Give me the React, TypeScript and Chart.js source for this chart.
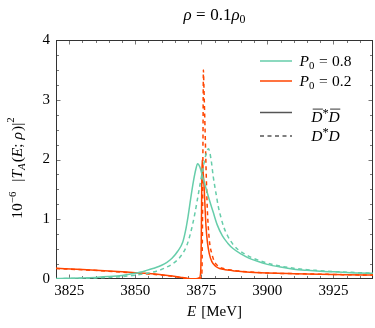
import React, { useEffect, useRef } from "react";
import { Chart, registerables } from "chart.js";

Chart.register(...registerables);

// ---- data (E in MeV, values in 10^-6 |T_A|^2) ----
const E_P08_DBAR = [3820,3825,3830,3835,3840,3845,3850,3854,3857,3860,3862,3864,3866,3868,3869,3870,3871,3872,3873,3873.6,3874.5,3875.5,3876.5,3878,3879.5,3881,3883,3885,3887,3890,3893,3896,3900,3905,3910,3915,3920,3925,3930,3935,3940];
const Y_P08_DBAR = [0.008,0.012,0.018,0.027,0.04,0.06,0.095,0.14,0.18,0.23,0.28,0.35,0.46,0.62,0.8,1.05,1.35,1.63,1.85,1.93,1.87,1.71,1.56,1.33,1.12,0.91,0.72,0.6,0.51,0.42,0.35,0.3,0.245,0.2,0.165,0.145,0.13,0.12,0.11,0.1,0.095];

const E_P08_D = [3820,3825,3830,3835,3840,3845,3850,3855,3858,3861,3864,3866,3868,3869.5,3871,3872.5,3874,3875.5,3876.7,3877.7,3878.7,3879.5,3880.5,3881.5,3882.5,3883.5,3885,3887,3889,3891,3894,3897,3900,3905,3910,3915,3920,3925,3930,3935,3940];
const Y_P08_D = [0.005,0.008,0.012,0.018,0.027,0.04,0.065,0.1,0.13,0.18,0.25,0.32,0.43,0.56,0.78,1.08,1.45,1.82,2.07,2.18,2.0,1.72,1.45,1.2,1.02,0.87,0.72,0.58,0.49,0.43,0.36,0.31,0.265,0.215,0.18,0.155,0.14,0.125,0.115,0.105,0.1];

const E_P02_DBAR = [3820,3830,3840,3850,3855,3860,3864,3867,3869,3871,3873,3874.3,3874.8,3875.0,3875.15,3875.3,3875.6,3876.0,3876.4,3876.8,3877.3,3878,3879,3880.5,3882,3884,3887,3890,3895,3900,3910,3920,3930,3940];
const Y_P02_DBAR = [0.18,0.16,0.135,0.105,0.09,0.07,0.05,0.03,0.015,0.005,0.003,0.02,0.15,0.7,1.45,1.99,1.82,1.6,1.22,0.87,0.62,0.43,0.29,0.21,0.175,0.155,0.14,0.125,0.11,0.1,0.088,0.078,0.07,0.065];

const E_P02_D = [3820,3830,3840,3850,3855,3860,3864,3867,3869,3871,3873,3874.5,3875.2,3875.45,3875.65,3875.8,3876.0,3876.4,3876.9,3877.3,3877.8,3878.2,3879,3879.8,3881,3883,3886,3890,3895,3900,3910,3920,3930,3940];
const Y_P02_D = [0.175,0.155,0.13,0.1,0.085,0.065,0.045,0.025,0.012,0.004,0.002,0.01,0.08,0.9,2.4,3.5,3.2,2.55,1.7,1.15,0.78,0.59,0.42,0.31,0.23,0.18,0.15,0.13,0.115,0.1,0.09,0.08,0.072,0.066];

const X_MIN = 3820;
const X_MAX = 3940;
const X_STEP = 25;
const Y_MIN = 0;
const Y_MAX = 4;
const Y_STEP = 1;

const LEGEND_P = ["0.8", "0.2"];

const TEAL = "rgb(102,205,170)";
const ORANGE = "rgb(255,69,0)";
const FONT = '"Liberation Serif", "Times New Roman", serif';

type Run = { t: string; it?: boolean; sc?: number; dy?: number; dx?: number; bar?: boolean };

function runFont(r: Run, size: number) {
  return `${r.it ? "italic " : ""}${(size * (r.sc ?? 1)).toFixed(1)}px ${FONT}`;
}

function drawRuns(ctx: CanvasRenderingContext2D, runs: Run[], x: number, y: number, size: number, align: "left" | "center") {
  let total = 0;
  for (const r of runs) {
    ctx.font = runFont(r, size);
    total += ctx.measureText(r.t).width + (r.dx ?? 0);
  }
  let cx = align === "center" ? x - total / 2 : x;
  ctx.textAlign = "left";
  ctx.textBaseline = "alphabetic";
  for (const r of runs) {
    ctx.font = runFont(r, size);
    cx += r.dx ?? 0;
    const w = ctx.measureText(r.t).width;
    ctx.fillText(r.t, cx, y + (r.dy ?? 0));
    if (r.bar) {
      const by = y + (r.dy ?? 0) - size * 0.8;
      ctx.save();
      ctx.lineWidth = 0.8;
      ctx.strokeStyle = ctx.fillStyle as string;
      ctx.beginPath();
      ctx.moveTo(cx + 1.5, by);
      ctx.lineTo(cx + w + 0.5, by);
      ctx.stroke();
      ctx.restore();
    }
    cx += w;
  }
}

const decorPlugin = {
  id: "decor",
  beforeDatasetsDraw(chart: any) {
    const { ctx, chartArea: a, scales } = chart;
    const xs = scales.x;
    const ys = scales.y;
    ctx.save();
    ctx.strokeStyle = "#777";
    ctx.lineWidth = 1;
    ctx.beginPath();
    for (let v = X_MIN + 5; v < X_MAX; v += 5) {
      const major = (v - 3825) % 25 === 0;
      const len = major ? 4.5 : 3;
      const px = Math.round(xs.getPixelForValue(v)) + 0.5;
      ctx.moveTo(px, a.bottom);
      ctx.lineTo(px, a.bottom - len);
      ctx.moveTo(px, a.top);
      ctx.lineTo(px, a.top + len);
    }
    for (let i = 1; i < 16; i++) {
      const v = i * 0.25;
      const major = i % 4 === 0;
      const len = major ? 4.5 : 3;
      const py = Math.round(ys.getPixelForValue(v)) + 0.5;
      ctx.moveTo(a.left, py);
      ctx.lineTo(a.left + len, py);
      ctx.moveTo(a.right, py);
      ctx.lineTo(a.right - len, py);
    }
    ctx.stroke();
    ctx.strokeStyle = "#333";
    ctx.strokeRect(a.left + 0.5, a.top + 0.5, a.right - a.left - 1, a.bottom - a.top - 1);
    ctx.restore();
  },
  afterDraw(chart: any) {
    const { ctx, chartArea: a } = chart;
    ctx.save();
    ctx.fillStyle = "#000";
    // title
    drawRuns(ctx, [
      { t: "ρ", it: true }, { t: "=", dx: 4.5 }, { t: "0.1", dx: 4.5 }, { t: "ρ", it: true }, { t: "0", sc: 0.7, dy: 3 },
    ], (a.left + a.right) / 2, 20, 17, "center");
    // x label
    drawRuns(ctx, [{ t: "E", it: true }, { t: "[MeV]", dx: 5 }], (a.left + a.right) / 2, 316, 15, "center");
    // y label
    ctx.save();
    ctx.translate(22, 168);
    ctx.rotate(-Math.PI / 2);
    drawRuns(ctx, [
      { t: "10" }, { t: "−6", sc: 0.7, dy: -6 }, { t: "|", dx: 10 }, { t: "T", it: true }, { t: "A", it: true, sc: 0.7, dy: 3 },
      { t: "(", dx: 1 }, { t: "E", it: true }, { t: ";" }, { t: "ρ", it: true, dx: 4 }, { t: ")|", dx: 1 }, { t: "2", sc: 0.7, dy: -8 },
    ], 0, 0, 15.5, "center");
    ctx.restore();

    // legend
    const lx0 = 260, lx1 = 292, tx = 325.5;
    const rows = [
      { ly: 61, by: 66, color: TEAL, dash: [] as number[] },
      { ly: 81, by: 86, color: ORANGE, dash: [] as number[] },
      { ly: 112.5, by: 121.5, color: "#555", dash: [] as number[] },
      { ly: 136, by: 140.5, color: "#555", dash: [4, 3.5] },
    ];
    rows.forEach((r) => {
      ctx.save();
      ctx.strokeStyle = r.color;
      ctx.lineWidth = 1.5;
      ctx.setLineDash(r.dash);
      ctx.beginPath();
      ctx.moveTo(lx0, r.ly);
      ctx.lineTo(lx1, r.ly);
      ctx.stroke();
      ctx.restore();
    });
    ctx.fillStyle = "#000";
    LEGEND_P.forEach((p, i) => {
      drawRuns(ctx, [{ t: "P", it: true }, { t: "0", sc: 0.7, dy: 3 }, { t: "=", dx: 4.5 }, { t: p, dx: 4.5 }], tx, rows[i].by, 15.5, "center");
    });
    drawRuns(ctx, [{ t: "D", it: true, bar: true }, { t: "*", sc: 0.8, dy: -5 }, { t: "D", it: true, bar: true }], tx, rows[2].by, 15.5, "center");
    drawRuns(ctx, [{ t: "D", it: true }, { t: "*", sc: 0.8, dy: -5 }, { t: "D", it: true }], tx, rows[3].by, 15.5, "center");
    ctx.restore();
  },
};

function pts(xs: number[], ys: number[]) {
  return xs.map((x, i) => ({ x, y: ys[i] }));
}

export default function App() {
  const ref = useRef<HTMLCanvasElement | null>(null);
  useEffect(() => {
    if (!ref.current) return;
    const common = { pointRadius: 0, borderWidth: 1.5, fill: false, cubicInterpolationMode: "monotone" as const };
    const chart = new Chart(ref.current, {
      type: "line",
      data: {
        datasets: [
          { label: "P0 = 0.8, D̄*D̄", data: pts(E_P08_DBAR, Y_P08_DBAR), borderColor: TEAL, ...common },
          { label: "P0 = 0.8, D*D", data: pts(E_P08_D, Y_P08_D), borderColor: TEAL, borderDash: [4, 3.5], ...common },
          { label: "P0 = 0.2, D̄*D̄", data: pts(E_P02_DBAR, Y_P02_DBAR), borderColor: ORANGE, ...common },
          { label: "P0 = 0.2, D*D", data: pts(E_P02_D, Y_P02_D), borderColor: ORANGE, borderDash: [4, 3.5], ...common },
        ],
      },
      options: {
        responsive: false,
        animation: false,
        devicePixelRatio: 1,
        parsing: false as any,
        layout: { padding: { top: 40, right: 2, left: 0, bottom: 0 } },
        plugins: { legend: { display: false }, tooltip: { enabled: false }, title: { display: false } },
        scales: {
          x: {
            type: "linear",
            min: X_MIN,
            max: X_MAX,
            grid: { display: false, drawTicks: false },
            border: { display: false },
            ticks: {
              stepSize: X_STEP,
              includeBounds: false,
              autoSkip: false,
              maxRotation: 0,
              padding: 3,
              color: "#000",
              font: { family: FONT, size: 15 },
              callback: (v: any) => String(v),
            },
            afterFit: (s: any) => { s.height = 49; },
          },
          y: {
            type: "linear",
            min: Y_MIN,
            max: Y_MAX,
            grid: { display: false, drawTicks: false },
            border: { display: false },
            ticks: {
              stepSize: Y_STEP,
              padding: 6,
              color: "#000",
              font: { family: FONT, size: 15 },
              callback: (v: any) => String(v),
            },
            afterFit: (s: any) => { s.width = 56; },
          },
        },
      },
      plugins: [decorPlugin],
    });
    return () => chart.destroy();
  }, []);
  return (
    <div style={{ position: "fixed", left: 0, top: 0, width: 375, height: 328, background: "#fff" }}>
      <canvas ref={ref} width={375} height={328} style={{ display: "block" }} />
    </div>
  );
}
